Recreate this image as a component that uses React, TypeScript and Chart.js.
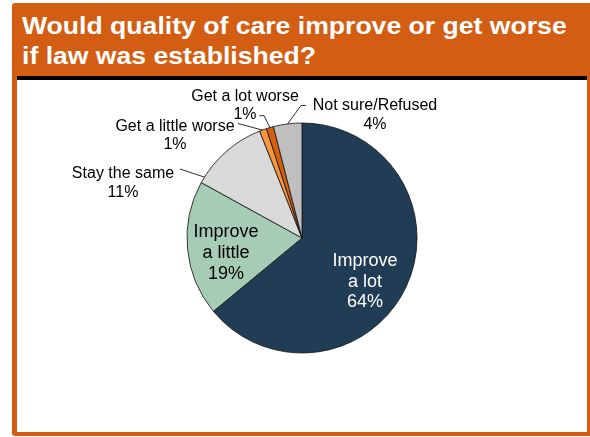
import React, { useEffect, useRef } from "react";
import { Chart, registerables } from "chart.js";

Chart.register(...registerables);

// ---- data ----
const CATEGORIES = [
  "Improve a lot",
  "Improve a little",
  "Stay the same",
  "Get a little worse",
  "Get a lot worse",
  "Not sure/Refused",
];
const VALUES = [64, 19, 11, 1, 1, 4];
const LABEL_LINES = [
  ["Improve", "a lot"],
  ["Improve", "a little"],
  ["Stay the same"],
  ["Get a little worse"],
  ["Get a lot worse"],
  ["Not sure/Refused"],
];

// ---- styles ----
const COLORS = ["#213D56", "#A6CCB5", "#D9D9D9", "#F7963D", "#D4600F", "#BFBFBF"];
const ORANGE = "#D35E13";
const FONT = "'Liberation Sans', Arial, sans-serif";

// label layout, offsets from pie centre in px at radius 115
type LabelLayout = {
  inside: boolean;
  cx: number;
  y0: number;
  lh: number;
  size: number;
  color: string;
  leader?: number[][];
  frac?: number;
};
const LAYOUT: LabelLayout[] = [
  { inside: true, cx: 63, y0: 28, lh: 20.5, size: 18, color: "#FFFFFF" },
  { inside: true, cx: -76, y0: -0.7, lh: 20.7, size: 18, color: "#000000" },
  { inside: false, cx: -179, y0: -60, lh: 18.5, size: 16, color: "#000000", leader: [[-122, -69]], frac: 0.08 },
  { inside: false, cx: -127, y0: -107.5, lh: 18.5, size: 16, color: "#000000", leader: [[-64, -114.5]], frac: 0.4 },
  { inside: false, cx: -57, y0: -137.5, lh: 18.5, size: 16, color: "#000000", leader: [[-42.7, -122.3], [-38, -122.3]], frac: 0.5 },
  { inside: false, cx: 73, y0: -128, lh: 18.5, size: 16, color: "#000000", leader: [[4, -132.5], [-1, -132.5]], frac: 0.5 },
];

const labelPlugin = {
  id: "pieLabels",
  afterDatasetsDraw(chart: any) {
    const ctx = chart.ctx;
    const meta = chart.getDatasetMeta(0);
    meta.data.forEach((arc: any, i: number) => {
      const L = LAYOUT[i];
      const cx = arc.x;
      const cy = arc.y;
      const R = arc.outerRadius;
      const k = R / 115;
      ctx.save();
      if (L.leader) {
        const a = arc.startAngle + (arc.endAngle - arc.startAngle) * (L.frac ?? 0.5);
        ctx.beginPath();
        ctx.strokeStyle = "#1a1a1a";
        ctx.lineWidth = 0.9;
        L.leader.forEach((p, j) => {
          const x = cx + p[0] * k;
          const y = cy + p[1] * k;
          if (j === 0) ctx.moveTo(x, y);
          else ctx.lineTo(x, y);
        });
        ctx.lineTo(cx + Math.cos(a) * R, cy + Math.sin(a) * R);
        ctx.stroke();
      }
      ctx.fillStyle = L.color;
      ctx.font = `${L.size}px ${FONT}`;
      ctx.textAlign = "center";
      ctx.textBaseline = "alphabetic";
      const lines = [...LABEL_LINES[i], `${VALUES[i]}%`];
      lines.forEach((t, j) => {
        ctx.fillText(t, cx + L.cx * k, cy + (L.y0 + j * L.lh) * k);
      });
      ctx.restore();
    });
  },
};

function PieChart() {
  const ref = useRef<HTMLCanvasElement | null>(null);
  useEffect(() => {
    if (!ref.current) return;
    const chart = new Chart(ref.current, {
      type: "pie",
      data: {
        labels: CATEGORIES,
        datasets: [
          {
            data: VALUES,
            backgroundColor: COLORS,
            borderColor: "#111111",
            borderWidth: 0.8,
          },
        ],
      },
      options: {
        animation: false,
        responsive: false,
        maintainAspectRatio: false,
        radius: 115,
        layout: { padding: { top: 43, bottom: 79, left: 0, right: 0 } },
        plugins: {
          legend: { display: false },
          tooltip: { enabled: false },
        },
      },
      plugins: [labelPlugin],
    } as any);
    return () => chart.destroy();
  }, []);
  return <canvas ref={ref} width={570} height={352} style={{ display: "block", width: 570, height: 352 }} />;
}

export default function App() {
  return (
    <div style={{ position: "absolute", left: 0, top: 0, width: 590, height: 437, overflow: "hidden", background: "#FFFFFF" }}>
      <div style={{ position: "absolute", left: 12, top: 3, width: 580, height: 433, background: ORANGE, borderRadius: 3 }} />
      <div
        style={{
          position: "absolute",
          left: 22,
          top: 11.3,
          color: "#FFFFFF",
          fontFamily: FONT,
          fontWeight: "bold",
          fontSize: 23,
          lineHeight: "30px",
          whiteSpace: "nowrap",
          transform: "scaleX(1.156)",
          transformOrigin: "left top",
        }}
      >
        Would quality of care improve or get worse
        <br />
        if law was established?
      </div>
      <div style={{ position: "absolute", left: 17, top: 76, width: 570, height: 4, background: "#000000" }} />
      <div style={{ position: "absolute", left: 17, top: 80, width: 570, height: 352, background: "#FFFFFF" }}>
        <PieChart />
      </div>
    </div>
  );
}
